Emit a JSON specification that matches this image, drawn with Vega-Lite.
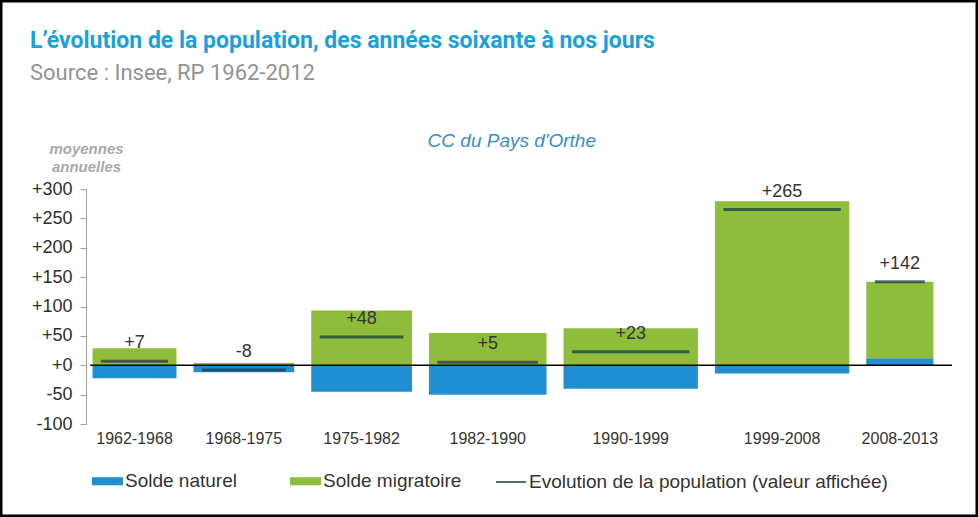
{
  "$schema": "https://vega.github.io/schema/vega-lite/v6.json",
  "width": 978,
  "height": 517,
  "autosize": {"type": "none"},
  "padding": 0,
  "background": "white",
  "config": {
    "view": {"stroke": "#000000", "strokeWidth": 5},
    "font": "Liberation Sans",
    "locale": {"number": {"decimal": ".", "thousands": ",", "grouping": [3], "currency": ["", ""], "minus": "-"}}
  },
  "title": {
    "text": "L’évolution de la population, des années soixante à nos jours",
    "subtitle": "Source : Insee, RP 1962-2012",
    "anchor": "start",
    "frame": "group",
    "offset": -84,
    "dx": 30,
    "font": "Roboto",
    "fontSize": 23,
    "fontWeight": "bold",
    "color": "#1ba0dc",
    "subtitleFont": "Roboto",
    "subtitleFontSize": 22,
    "subtitleColor": "#939393",
    "subtitlePadding": 10
  },
  "data": {
    "values": [
      {"periode": "1962-1968", "debut": 1962, "fin": 1968, "Solde naturel": -22, "Solde migratoire": 29, "evolution": 7},
      {"periode": "1968-1975", "debut": 1968, "fin": 1975, "Solde naturel": -12, "Solde migratoire": 4, "evolution": -8},
      {"periode": "1975-1982", "debut": 1975, "fin": 1982, "Solde naturel": -45, "Solde migratoire": 93, "evolution": 48},
      {"periode": "1982-1990", "debut": 1982, "fin": 1990, "Solde naturel": -50, "Solde migratoire": 55, "evolution": 5},
      {"periode": "1990-1999", "debut": 1990, "fin": 1999, "Solde naturel": -40, "Solde migratoire": 63, "evolution": 23},
      {"periode": "1999-2008", "debut": 1999, "fin": 2008, "Solde naturel": -14, "Solde migratoire": 279, "evolution": 265},
      {"periode": "2008-2013", "debut": 2008, "fin": 2013, "Solde naturel": 12, "Solde migratoire": 130, "evolution": 142}
    ]
  },
  "layer": [
    {
      "transform": [{"fold": ["Solde naturel", "Solde migratoire"], "as": ["composante", "valeur"]}],
      "mark": {"type": "bar", "orient": "vertical", "xOffset": 8.5, "x2Offset": -8.5},
      "encoding": {
        "x": {"field": "debut", "type": "quantitative", "scale": {"domain": [1957.3, 2014.85], "nice": false, "zero": false}, "axis": null},
        "x2": {"field": "fin"},
        "y": {
          "field": "valeur", "type": "quantitative", "stack": "zero",
          "scale": {"domain": [-100, 300], "range": [424, 189], "nice": false, "zero": false},
          "axis": {
            "values": [-100, -50, 0, 50, 100, 150, 200, 250, 300],
            "format": "+d",
            "offset": -86,
            "domain": true, "domainColor": "#a0a0a0", "domainWidth": 1,
            "ticks": true, "tickColor": "#a0a0a0", "tickSize": 6,
            "grid": false,
            "labelFont": "Liberation Sans", "labelFontSize": 18, "labelColor": "#2e2e2e", "labelPadding": 8,
            "labelOverlap": false,
            "title": ["moyennes", "annuelles"],
            "titleAngle": 0, "titleAlign": "center", "titleBaseline": "alphabetic",
            "titleX": 0, "titleY": 153,
            "titleFont": "Liberation Sans", "titleFontSize": 15, "titleFontStyle": "italic", "titleFontWeight": "bold",
            "titleColor": "#a8a8a8", "titleLineHeight": 18.5
          }
        },
        "color": {
          "field": "composante", "type": "nominal",
          "scale": {"domain": ["Solde naturel", "Solde migratoire"], "range": ["#1f8fd2", "#8ebd3b"]},
          "legend": {
            "orient": "none", "legendX": 92, "legendY": 465.5, "direction": "horizontal", "title": null,
            "symbolType": "M-1,-0.26H1V0.26H-1Z", "symbolSize": 961, "symbolStrokeWidth": 0,
            "labelFont": "Liberation Sans", "labelFontSize": 19, "labelColor": "#333333", "labelOffset": 2,
            "columnPadding": 53, "labelLimit": 400
          }
        },
        "order": {"field": "composante", "sort": "descending"}
      }
    },
    {
      "data": {"values": [{}]},
      "mark": {"type": "rule", "color": "#000000", "strokeWidth": 1.5},
      "encoding": {
        "x": {"datum": 1962.36, "type": "quantitative", "axis": null},
        "x2": {"datum": 2013.6},
        "y": {"datum": 0, "type": "quantitative"}
      }
    },
    {
      "mark": {"type": "rule", "strokeWidth": 3, "xOffset": 17, "x2Offset": -17, "opacity": 0.7},
      "encoding": {
        "x": {"field": "debut", "type": "quantitative", "axis": null},
        "x2": {"field": "fin"},
        "y": {"field": "evolution", "type": "quantitative"},
        "stroke": {
          "datum": "Evolution de la population (valeur affichée)",
          "scale": {"range": ["#0f3545"]},
          "legend": {
            "orient": "none", "legendX": 495, "legendY": 466, "title": null,
            "symbolType": "stroke", "symbolSize": 900, "symbolStrokeWidth": 2,
            "labelFont": "Liberation Sans", "labelFontSize": 19, "labelColor": "#333333", "labelOffset": 2, "labelLimit": 500
          }
        }
      }
    },
    {
      "transform": [{"calculate": "(datum.debut + datum.fin) / 2", "as": "milieu"}],
      "mark": {"type": "text", "font": "Liberation Sans", "fontSize": 18, "color": "#333333", "baseline": "alphabetic", "dy": -13},
      "encoding": {
        "x": {"field": "milieu", "type": "quantitative", "axis": null},
        "y": {"field": "evolution", "type": "quantitative"},
        "text": {"field": "evolution", "type": "quantitative", "format": "+d"}
      }
    },
    {
      "transform": [{"calculate": "(datum.debut + datum.fin) / 2", "as": "milieu"}],
      "mark": {"type": "text", "font": "Liberation Sans", "fontSize": 16, "color": "#333333", "baseline": "top", "dy": 7},
      "encoding": {
        "x": {"field": "milieu", "type": "quantitative", "axis": null},
        "y": {"datum": -100, "type": "quantitative"},
        "text": {"field": "periode"}
      }
    },
    {
      "data": {"values": [{}]},
      "mark": {"type": "text", "text": "CC du Pays d'Orthe", "font": "Liberation Sans", "fontSize": 19, "fontStyle": "italic", "color": "#3a8ccc", "baseline": "alphabetic", "align": "center"},
      "encoding": {
        "x": {"datum": 1987.43, "type": "quantitative", "axis": null},
        "y": {"datum": 371.5, "type": "quantitative"}
      }
    }
  ]
}
